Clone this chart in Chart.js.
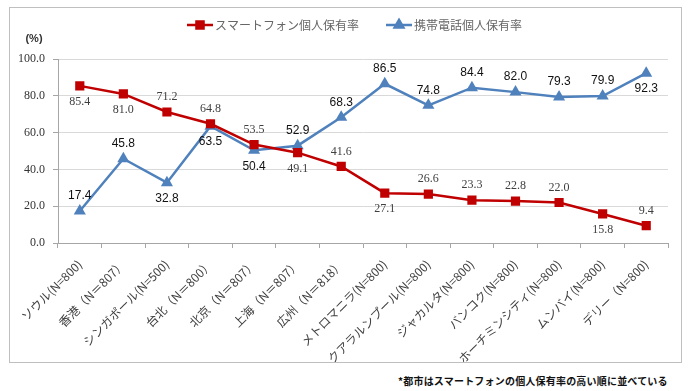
<!DOCTYPE html>
<html>
<head>
<meta charset="utf-8">
<script src="https://cdn.jsdelivr.net/npm/chart.js@4/dist/chart.umd.min.js"></script>
<style>
  html, body { margin: 0; padding: 0; background: #fff; }
  body { width: 688px; height: 391px; position: relative; overflow: hidden; }
  .frame {
    position: absolute; left: 9px; top: 7px;
    width: 673px; height: 356px; box-sizing: border-box;
    border: 1px solid #bfbfbf;
  }
  .frame canvas { position: absolute; left: 0; top: 0; }
  .note {
    position: absolute; left: 398px; top: 373px;
    font: bold 10px "Noto Sans CJK JP", sans-serif; color: #111;
    white-space: nowrap; line-height: 15px; letter-spacing: 0.2px;
  }
</style>
</head>
<body>
<div class="frame"><canvas id="chart" width="671" height="354"></canvas></div>
<div class="note">*都市はスマートフォンの個人保有率の高い順に並べている</div>

<script>
const cities = [
  'ソウル(N=800)', '香港（N＝807）', 'シンガポール(N=500)', '台北（N＝800）',
  '北京（N＝807）', '上海（N＝807）', '広州（N＝818）', 'メトロマニラ(N=800)',
  'クアラルンプール(N=800)', 'ジャカルタ(N=800)', 'バンコク(N=800)',
  'ホーチミンシティ(N=800)', 'ムンバイ(N=800)', 'デリー（N=800)'
];
const smartphoneRate = [85.4, 81.0, 71.2, 64.8, 53.5, 49.1, 41.6, 27.1, 26.6, 23.3, 22.8, 22.0, 15.8, 9.4];
const mobileRate = [17.4, 45.8, 32.8, 63.5, 50.4, 52.9, 68.3, 86.5, 74.8, 84.4, 82.0, 79.3, 79.9, 92.3];
const seriesNames = ['スマートフォン個人保有率', '携帯電話個人保有率'];

// label placement: a = above the point, b = below
const smartphoneLabelPos = ['b','b','a','a','a','b','a','b','a','a','a','a','b','a'];
const mobileLabelPos = ['a','a','b','b','b','a','a','a','a','a','a','a','a','b'];

const RED = '#C00000';
const BLUE = '#4F81BD';

const valueLabels = {
  id: 'valueLabels',
  afterDatasetsDraw(chart, args, opts) {
    const ctx = chart.ctx;
    chart.data.datasets.forEach((ds, i) => {
      const meta = chart.getDatasetMeta(i);
      const st = opts.styles[i];
      ctx.save();
      ctx.font = st.font;
      ctx.fillStyle = st.color;
      ctx.textAlign = 'center';
      ctx.textBaseline = 'middle';
      meta.data.forEach((pt, j) => {
        const dy = st.place[j] === 'a' ? -15 : 16;
        ctx.fillText(ds.data[j].toFixed(1), pt.x, pt.y + dy);
      });
      ctx.restore();
    });
  }
};

// legend with line + marker, plus the "(%)" unit
const topLegend = {
  id: 'topLegend',
  afterDraw(chart) {
    const ctx = chart.ctx;
    const y = 17;
    let x = 177;
    ctx.save();
    ctx.font = '12px "Noto Sans CJK JP", sans-serif';
    ctx.textBaseline = 'middle';
    chart.data.datasets.forEach(ds => {
      ctx.strokeStyle = ds.borderColor;
      ctx.lineWidth = 2.5;
      ctx.beginPath();
      ctx.moveTo(x, y);
      ctx.lineTo(x + 26, y);
      ctx.stroke();
      Chart.helpers.drawPoint(ctx, {
        pointStyle: ds.pointStyle, radius: 5, rotation: 0, borderWidth: 1
      }, x + 13, y);
      ctx.fillStyle = ds.borderColor;
      ctx.fill();
      ctx.fillStyle = '#666';
      ctx.fillText(ds.label, x + 28, y);
      x += 28 + ctx.measureText(ds.label).width + 27;
    });
    ctx.font = 'bold 11px "Liberation Sans", sans-serif';
    ctx.fillStyle = '#333';
    ctx.textAlign = 'center';
    ctx.fillText('(%)', 24, 31);
    ctx.restore();
  }
};

new Chart(document.getElementById('chart'), {
  type: 'line',
  data: {
    labels: cities,
    datasets: [
      {
        label: seriesNames[0],
        data: smartphoneRate,
        borderColor: RED,
        backgroundColor: RED,
        borderWidth: 2.5,
        pointStyle: 'rect',
        pointRadius: 6.5,
        pointBorderWidth: 0,
        tension: 0
      },
      {
        label: seriesNames[1],
        data: mobileRate,
        borderColor: BLUE,
        backgroundColor: BLUE,
        borderWidth: 2.5,
        pointStyle: 'triangle',
        pointRadius: 7,
        pointBorderWidth: 0,
        tension: 0
      }
    ]
  },
  options: {
    responsive: false,
    animation: false,
    devicePixelRatio: 1,
    layout: { padding: { top: 51, right: 13, left: 0, bottom: 0 } },
    scales: {
      x: {
        offset: true,
        afterFit(scale) {
          scale.height = 119;
          scale.paddingLeft = 0;
          scale.paddingRight = 0;
        },
        grid: {
          display: true, drawOnChartArea: false, offset: true,
          tickLength: 5, color: '#a6a6a6'
        },
        border: { display: true, color: '#a6a6a6' },
        ticks: {
          autoSkip: false, maxRotation: 45, minRotation: 45, padding: 9,
          color: '#404040',
          font: { family: '"Noto Sans CJK JP", sans-serif', size: 12 }
        }
      },
      y: {
        min: 0, max: 100,
        afterFit(scale) { scale.width = 48; },
        grid: { color: '#d9d9d9', tickLength: 5, tickColor: '#a6a6a6' },
        border: { display: true, color: '#a6a6a6' },
        ticks: {
          stepSize: 20, padding: 8, color: '#333',
          font: { family: '"Liberation Serif", serif', size: 12 },
          callback: v => v.toFixed(1)
        }
      }
    },
    plugins: {
      legend: { display: false },
      tooltip: { enabled: false },
      valueLabels: {
        styles: [
          { font: '12px "Liberation Serif", serif', color: '#404040', place: smartphoneLabelPos },
          { font: '12px "Liberation Sans", sans-serif', color: '#111', place: mobileLabelPos }
        ]
      }
    }
  },
  plugins: [valueLabels, topLegend]
});
</script>
</body>
</html>
